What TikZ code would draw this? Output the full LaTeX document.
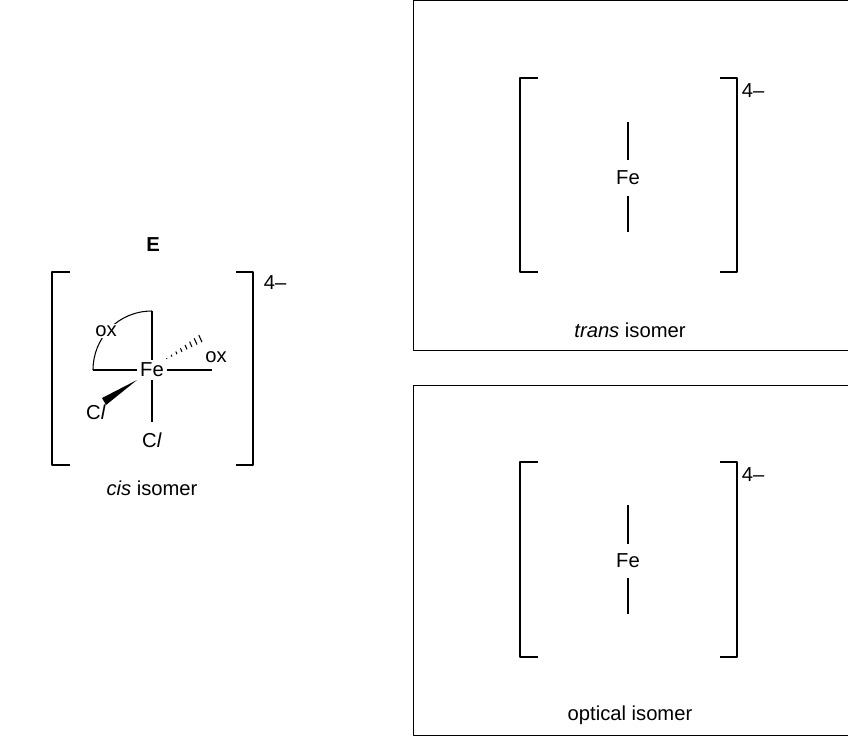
\documentclass[tikz,border=0pt]{standalone}
\usepackage{fontspec}
\setmainfont{Liberation Sans}
\begin{document}
\begin{tikzpicture}[x=0.02cm,y=-0.02cm,line join=round,line cap=butt,
  lbl/.style={inner sep=1.5pt,font=\fontsize{11.5}{13}\selectfont},
  bond/.style={line width=0.6pt}]
	\useasboundingbox (0,0) rectangle (848,745);
	% cis isomer E
	\node[lbl,font=\fontsize{11.5}{13}\selectfont\bfseries] (E) at (153,245) {E};
	\draw[bond] (70,272) -- (52,272) -- (52,465) -- (70,465);
	\draw[bond] (236,272) -- (253,272) -- (253,465) -- (236,465);
	\node[lbl,anchor=west] (chgE) at (261,283) {4–};
	\node[lbl] (Fe) at (152,370) {Fe};
	\coordinate (t) at (152,311);
	\coordinate (l) at (93,370);
	\coordinate (r) at (212,370);
	\draw[bond] (Fe.north) -- (t);
	\draw[bond] (t) .. controls (118,311) and (93,338) .. (l);
	\draw[bond] (l) -- (Fe.west);
	\draw[bond] (Fe.east) -- (r);
	\draw[bond] (Fe.south) -- (152,422);
	\node[lbl,fill=white,inner sep=1pt] (ox1) at (106,331) {ox};
	\node[lbl] (ox2) at (216,357) {ox};
	\node[lbl] (cl1) at (96,412) {C\textit{l}};
	\node[lbl] (cl2) at (152,440) {C\textit{l}};
	\fill (137,380) -- (102,398) -- (106,405) -- cycle;
	\foreach \i in {0,...,7}
		\draw[line width=0.6pt] ({167+\i*5},{359-\i*2.4}) -- ++({-0.4-\i*0.4},{-0.9-\i*0.9});
	\node[lbl] (cis) at (152,488) {\textit{cis} isomer};
	% trans isomer
	\draw[line width=0.5pt] (413,0) rectangle (848,350);
	\draw[bond] (538,78) -- (520,78) -- (520,272) -- (538,272);
	\draw[bond] (720,78) -- (737,78) -- (737,272) -- (720,272);
	\node[lbl,anchor=west] (chgT) at (739,91) {4–};
	\node[lbl] (FeT) at (628,178) {Fe};
	\draw[bond] (628,122) -- (628,160);
	\draw[bond] (628,196) -- (628,232);
	\node[lbl] (trans) at (630,330) {\textit{trans} isomer};
	% optical isomer
	\draw[line width=0.5pt] (413,385) rectangle (848,735);
	\draw[bond] (538,462) -- (520,462) -- (520,657) -- (538,657);
	\draw[bond] (720,462) -- (737,462) -- (737,657) -- (720,657);
	\node[lbl,anchor=west] (chgO) at (739,475) {4–};
	\node[lbl] (FeO) at (628,561) {Fe};
	\draw[bond] (628,505) -- (628,544);
	\draw[bond] (628,578) -- (628,614);
	\node[lbl] (opt) at (630,715) {optical isomer};
\end{tikzpicture}
\end{document}
